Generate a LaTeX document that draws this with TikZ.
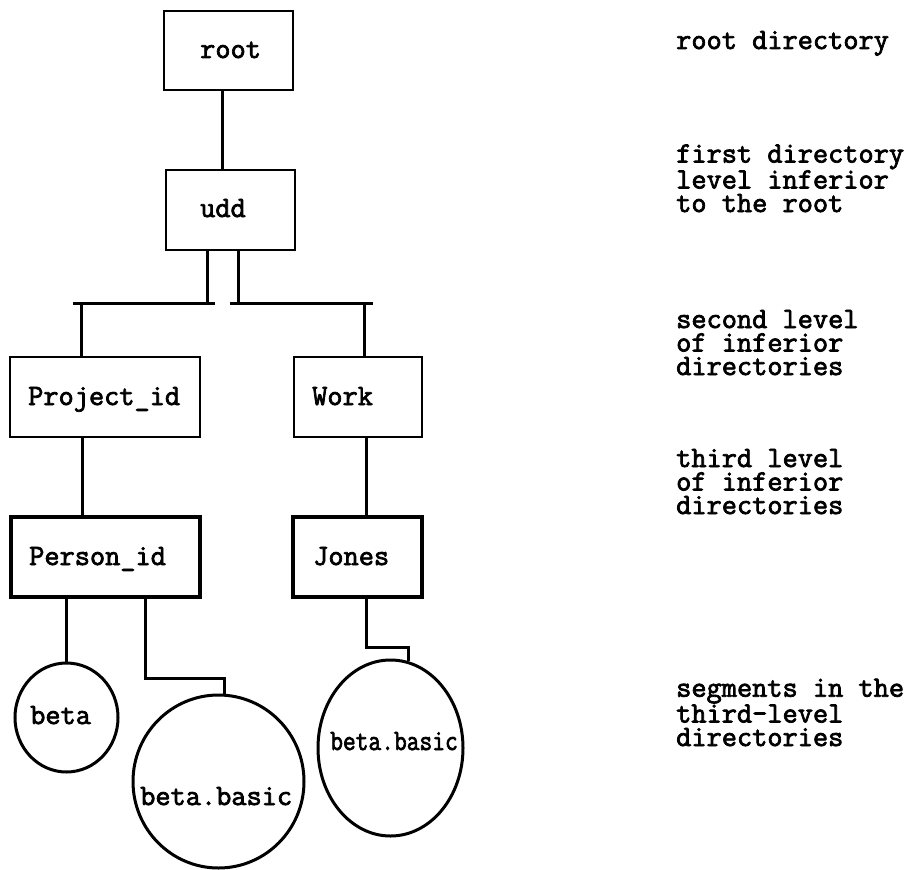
\documentclass[tikz,border=0pt]{standalone}
\usepackage{fontspec}
\usepackage{graphicx}
\setmonofont{Latin Modern Mono}[FakeBold=2.5]
\usetikzlibrary{shapes.geometric}
\begin{document}
\begin{tikzpicture}[x=1pt,y=-1pt,
  txt/.style={inner sep=0pt, anchor=base west, font=\ttfamily\fontsize{29.5}{23.5}\selectfont},
  lbl/.style={txt, align=left},
  dirbox/.style={draw, rectangle, line width=2.5pt, inner sep=0pt},
  thickbox/.style={dirbox, line width=3.5pt},
  seg/.style={draw, ellipse, line width=3pt, inner sep=0pt},
  conn/.style={line width=3pt}]
\useasboundingbox (0,0) rectangle (917,869);

% directory boxes
\node[dirbox, minimum width=129pt, minimum height=79pt] (root) at (228.5,50.5) {};
\node[dirbox, minimum width=129pt, minimum height=80pt] (udd) at (230.5,210) {};
\node[dirbox, minimum width=190pt, minimum height=80pt] (proj) at (105,397) {};
\node[dirbox, minimum width=128pt, minimum height=80pt] (work) at (358,397) {};
\node[thickbox, minimum width=189pt, minimum height=80pt] (pers) at (105.5,557) {};
\node[thickbox, minimum width=129pt, minimum height=80pt] (jones) at (357.5,557) {};

% segments
\node[seg, minimum width=103pt, minimum height=109pt] (beta) at (66.5,717.5) {};
\node[seg, minimum width=171pt, minimum height=173pt] (c2) at (218.5,781.5) {};
\node[seg, minimum width=145pt, minimum height=176pt] (c3) at (390.5,748) {};

% texts in boxes and circles
\node[txt] (rootT) at (200,58) {root};
\node[txt] (uddT) at (200,217) {udd};
\node[txt] (projT) at (28,405) {Project\_id};
\node[txt] (workT) at (312,405) {Work};
\node[txt] (persT) at (29,565) {Person\_id};
\node[txt] (jonesT) at (313,565) {Jones};
\node[txt] (betaT) at (30,724) {beta};
\node[txt] (c2T) at (140,805) {beta.basic};
\node[txt] (c3T) at (330,750) {\scalebox{0.84}[1]{beta.basic}};

% right-hand labels (base anchor = baseline of the last line)
\node[lbl] (l1) at (676,49) {root directory};
\node[lbl] (l2) at (676,212) {first directory\\level inferior\\to the root};
\node[lbl] (l3) at (676,375) {second level\\of inferior\\directories};
\node[lbl] (l4) at (676,514) {third level\\of inferior\\directories};
\node[lbl] (l5) at (676,746) {segments in the\\third-level\\directories};

% connectors
\coordinate (xa) at (222,0);
\draw[conn] (root.south -| xa) -- (udd.north -| xa);
\coordinate (jL) at (207,303);
\coordinate (jR) at (238,303);
\draw[conn] (udd.south -| jL) -- (jL);
\draw[conn] (udd.south -| jR) -- (jR);
\coordinate (barL1) at (73,303);
\coordinate (barL2) at (215,303);
\coordinate (barR1) at (230,303);
\coordinate (barR2) at (373,303);
\draw[conn] (barL1) -- (barL2);
\draw[conn] (barR1) -- (barR2);
\coordinate (dL) at (81,303);
\coordinate (dR) at (364,303);
\draw[conn] (dL) -- (proj.north -| dL);
\draw[conn] (dR) -- (work.north -| dR);
\coordinate (xb) at (82,0);
\draw[conn] (proj.south -| xb) -- (pers.north -| xb);
\coordinate (xc) at (366,0);
\draw[conn] (work.south -| xc) -- (jones.north -| xc);
\draw[conn] (pers.south -| beta.north) -- (beta.north);
\coordinate (e1) at (145,678);
\draw[conn] (pers.south -| e1) -- (e1) -| (c2.86);
\coordinate (e2) at (366,647);
\draw[conn] (jones.south -| e2) -- (e2) -| (c3.78);
\end{tikzpicture}
\end{document}
